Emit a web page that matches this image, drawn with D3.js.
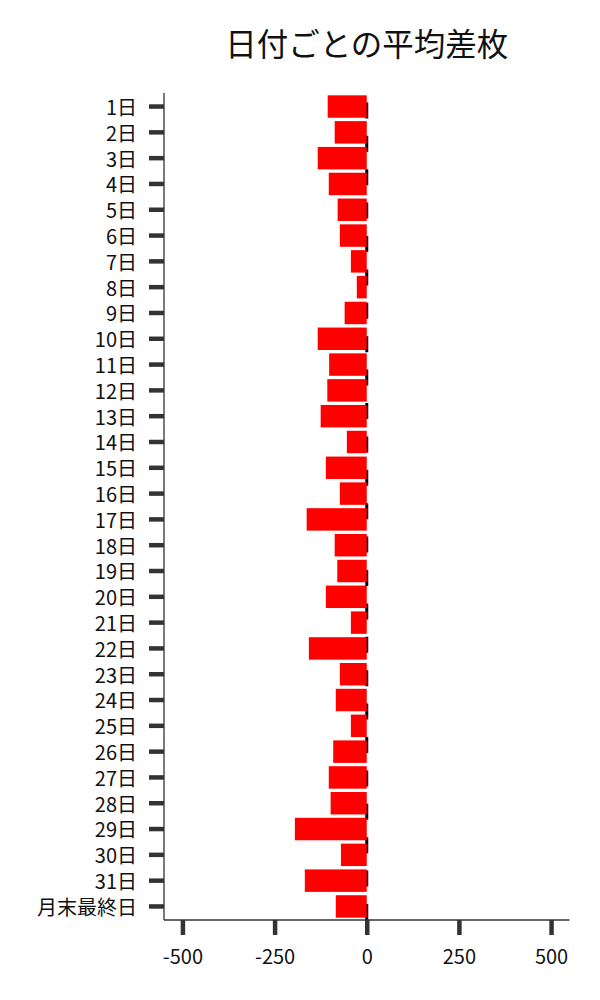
<!DOCTYPE html>
<html>
<head>
  <meta charset="utf-8">
  <script src="https://d3js.org/d3.v7.min.js"></script>
  <style>
    body{margin:0;background:#fff;}
    svg{display:block;}
    text{font-family:"Noto Sans CJK JP","Noto Sans",sans-serif;}
  </style>
</head>
<body>
<svg></svg>
<script type="text/javascript">
  // 日付ラベル
  var days = ["1日","2日","3日","4日","5日","6日","7日","8日","9日","10日",
              "11日","12日","13日","14日","15日","16日","17日","18日","19日","20日",
              "21日","22日","23日","24日","25日","26日","27日","28日","29日","30日",
              "31日","月末最終日"];
  // 平均差枚
  var avgDiff = [-106,-87,-133,-103,-79,-73,-43,-27,-60,-133,
                 -102,-107,-125,-54,-111,-73,-163,-87,-80,-111,
                 -43,-157,-73,-84,-43,-91,-103,-98,-195,-70,
                 -168,-84];
  var xTicks = [-500,-250,0,250,500];

  function draw() {
    "use strict";
    var W = 600, H = 1000;
    var mLeft = 164, mRight = 569.5, mTop = 93, mBottom = 920;

    var svg = d3.select("svg").attr("width", W).attr("height", H);

    var x = d3.scaleLinear().domain([-550, 550]).range([mLeft, mRight]);
    var y = d3.scaleBand().domain(days).range([mTop, mBottom])
              .paddingInner(0.13).paddingOuter(0.09);

    var data = days.map(function(d, i){ return {day: d, v: avgDiff[i]}; });

    // 0の破線（棒の後ろ）
    svg.append("line")
      .attr("x1", x(0)).attr("x2", x(0))
      .attr("y1", mBottom).attr("y2", mTop)
      .attr("stroke", "#000").attr("stroke-width", 3)
      .attr("stroke-dasharray", "16,17.4");

    svg.selectAll("rect.bar").data(data).enter().append("rect")
      .attr("class", "bar")
      .attr("x", function(d){ return x(Math.min(0, d.v)); })
      .attr("y", function(d){ return y(d.day); })
      .attr("width", function(d){ return Math.abs(x(d.v) - x(0)); })
      .attr("height", y.bandwidth())
      .attr("fill", "#ff0000");

    // x軸
    var xAxis = svg.append("g").attr("transform", "translate(0," + mBottom + ")")
      .call(d3.axisBottom(x).tickValues(xTicks).tickSize(15).tickPadding(15)
        .tickFormat(function(d){ return String(d); }));
    xAxis.select(".domain").attr("stroke", "#333").attr("stroke-width", 1.3)
      .attr("d", "M" + mLeft + ",0H" + mRight);
    xAxis.selectAll(".tick line").attr("stroke", "#333").attr("stroke-width", 4.5);
    xAxis.selectAll(".tick text").attr("font-size", 20).attr("fill", "#111");

    // y軸
    var yAxis = svg.append("g").attr("transform", "translate(" + mLeft + ",0)")
      .call(d3.axisLeft(y).tickSize(15).tickPadding(12));
    yAxis.select(".domain").attr("stroke", "#333").attr("stroke-width", 1.3)
      .attr("d", "M0," + mTop + "V" + mBottom);
    yAxis.selectAll(".tick line").attr("stroke", "#333").attr("stroke-width", 4.5);
    yAxis.selectAll(".tick text").attr("font-size", 20).attr("fill", "#111")
      .attr("dy", "0.42em");

    // タイトル
    svg.append("text")
      .attr("x", (mLeft + mRight) / 2).attr("y", 56)
      .attr("text-anchor", "middle")
      .attr("font-size", 31.5).attr("fill", "#111")
      .text("日付ごとの平均差枚");
  }
  draw();
</script>
</body>
</html>
